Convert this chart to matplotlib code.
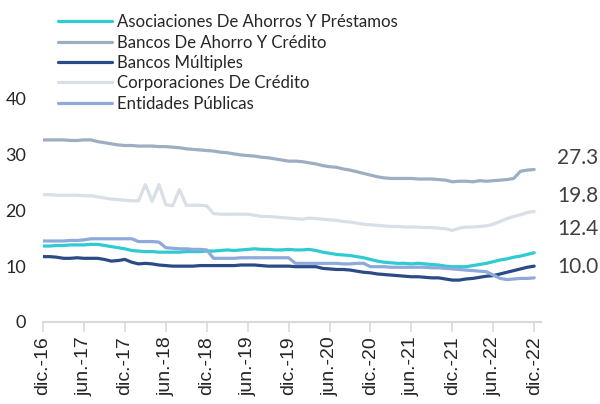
import matplotlib
matplotlib.use("Agg")
import matplotlib.pyplot as plt
import matplotlib.transforms as mtransforms
import numpy as np

# monthly series, dic.-16 .. dic.-22 (73 points)
asociaciones = [13.6, 13.6, 13.7, 13.7, 13.8, 13.8, 13.8, 13.9, 13.9, 13.7, 13.5, 13.3,
                13.1, 12.8, 12.7, 12.6, 12.6, 12.5, 12.5, 12.5, 12.5, 12.6, 12.6, 12.6,
                12.7, 12.7, 12.8, 12.9, 12.8, 12.9, 13.0, 13.1, 13.0, 13.0, 12.9, 12.9,
                13.0, 12.9, 12.9, 13.0, 12.8, 12.5, 12.3, 12.1, 12.0, 11.9, 11.7, 11.5,
                11.2, 10.9, 10.7, 10.6, 10.5, 10.5, 10.4, 10.5, 10.4, 10.3, 10.2, 10.0,
                9.9, 9.9, 9.9, 10.1, 10.3, 10.5, 10.8, 11.1, 11.3, 11.6, 11.8, 12.1,
                12.4]
bancos_ahorro = [32.6, 32.6, 32.6, 32.6, 32.5, 32.5, 32.6, 32.6, 32.3, 32.1, 31.9, 31.7,
                 31.6, 31.6, 31.5, 31.5, 31.5, 31.4, 31.4, 31.3, 31.2, 31.0, 30.9, 30.8,
                 30.7, 30.6, 30.4, 30.3, 30.1, 29.9, 29.8, 29.7, 29.5, 29.4, 29.2, 29.0,
                 28.8, 28.8, 28.7, 28.5, 28.3, 28.0, 27.8, 27.7, 27.4, 27.2, 26.9, 26.6,
                 26.3, 26.0, 25.8, 25.7, 25.7, 25.7, 25.7, 25.6, 25.6, 25.6, 25.5, 25.4,
                 25.1, 25.2, 25.2, 25.1, 25.3, 25.2, 25.3, 25.4, 25.5, 25.7, 27.0, 27.2,
                 27.3]
bancos_multiples = [11.7, 11.7, 11.6, 11.4, 11.4, 11.5, 11.4, 11.4, 11.4, 11.2, 10.9, 11.0,
                    11.2, 10.7, 10.4, 10.5, 10.4, 10.2, 10.1, 10.0, 10.0, 10.0, 10.0, 10.1,
                    10.1, 10.1, 10.1, 10.1, 10.1, 10.2, 10.2, 10.2, 10.1, 10.0, 10.0, 10.0,
                    10.0, 9.9, 9.9, 9.9, 9.9, 9.6, 9.5, 9.4, 9.4, 9.3, 9.1, 8.9,
                    8.8, 8.6, 8.5, 8.4, 8.3, 8.2, 8.1, 8.1, 8.0, 7.9, 7.9, 7.7,
                    7.5, 7.5, 7.7, 7.8, 8.0, 8.2, 8.3, 8.6, 8.9, 9.2, 9.5, 9.8,
                    10.0]
corporaciones = [22.8, 22.8, 22.7, 22.7, 22.7, 22.7, 22.6, 22.6, 22.4, 22.2, 22.0, 21.9,
                 21.8, 21.7, 21.7, 24.6, 21.6, 24.6, 21.0, 20.8, 23.7, 20.9, 20.9, 20.9,
                 20.8, 19.4, 19.3, 19.3, 19.3, 19.3, 19.3, 19.1, 18.9, 18.9, 18.8, 18.7,
                 18.6, 18.5, 18.4, 18.6, 18.5, 18.4, 18.3, 18.2, 18.0, 17.9, 17.7, 17.5,
                 17.4, 17.3, 17.2, 17.1, 17.1, 17.0, 17.0, 17.0, 16.9, 16.9, 16.8, 16.7,
                 16.4, 16.8, 17.0, 17.0, 17.1, 17.2, 17.5, 18.0, 18.5, 18.9, 19.2, 19.6,
                 19.8]
entidades = [14.5, 14.5, 14.5, 14.5, 14.6, 14.6, 14.7, 14.9, 14.9, 14.9, 14.9, 14.9,
             14.9, 14.9, 14.4, 14.4, 14.4, 14.3, 13.3, 13.2, 13.1, 13.1, 13.0, 13.0,
             12.9, 11.4, 11.4, 11.4, 11.4, 11.5, 11.5, 11.5, 11.5, 11.5, 11.5, 11.5,
             11.5, 10.5, 10.5, 10.5, 10.5, 10.5, 10.5, 10.5, 10.4, 10.4, 10.5, 10.5,
             9.9, 9.9, 9.9, 9.8, 9.8, 9.8, 9.8, 9.8, 9.8, 9.7, 9.7, 9.6,
             9.5, 9.4, 9.3, 9.2, 9.1, 9.0, 8.4, 7.8, 7.6, 7.7, 7.8, 7.8,
             7.9]

series_names = ["Asociaciones De Ahorros Y Préstamos", "Bancos De Ahorro Y Crédito",
                "Bancos Múltiples", "Corporaciones De Crédito", "Entidades Públicas"]
colors = ["#2ECBD3", "#9EAEC2", "#2C4A86", "#D9DFE7", "#8FA9DA"]

tick_labels = ["dic.-16", "jun.-17", "dic.-17", "jun.-18", "dic.-18", "jun.-19", "dic.-19",
               "jun.-20", "dic.-20", "jun.-21", "dic.-21", "jun.-22", "dic.-22"]
end_labels = ["27.3", "19.8", "12.4", "10.0"]
end_label_y = [29.3, 22.5, 16.6, 9.9]

font = "Lato"
fig = plt.figure(figsize=(6, 4.04), dpi=100)
ax = fig.add_axes([0.0717, 0.203, 0.83, 0.553])

x = np.arange(len(asociaciones))
data = [asociaciones, bancos_ahorro, bancos_multiples, corporaciones, entidades]
lines = []
for vals, c, name in zip(data, colors, series_names):
    l, = ax.plot(x, vals, color=c, lw=2.3, label=name, solid_capstyle="round")
    lines.append(l)

ax.set_xlim(0, 73)
ax.set_ylim(0, 40)
ax.set_yticks([0, 10, 20, 30, 40])
ax.set_xticks(np.arange(0, 73, 6))
ax.set_xticklabels(tick_labels, rotation=90, fontsize=14, family="Liberation Sans",
                   color="#262626")
for lab in ax.get_yticklabels():
    lab.set_family(font)
    lab.set_fontsize(13)
    lab.set_color("#262626")
ax.tick_params(axis="y", length=0, pad=12)
ax.tick_params(axis="x", length=7, color="#D9D9D9", width=1.2, pad=3)
for s in ["top", "right", "left"]:
    ax.spines[s].set_visible(False)
ax.spines["bottom"].set_color("#D9D9D9")
ax.spines["bottom"].set_linewidth(1.5)

trans = mtransforms.blended_transform_factory(ax.transAxes, ax.transData)
for t, yy in zip(end_labels, end_label_y):
    ax.text(1.032, yy, t, transform=trans, ha="left", va="center", fontsize=15,
            family=font, color="#404040", clip_on=False)

leg = fig.legend(handles=lines, loc="upper left", bbox_to_anchor=(0.0967, 0.965),
                 frameon=False, handlelength=3.2, handletextpad=0.3,
                 labelspacing=0.26, borderpad=0, borderaxespad=0,
                 prop={"family": font, "size": 12.1})
for t in leg.get_texts():
    t.set_color("#262626")

fig.savefig("out.png", dpi=100)
